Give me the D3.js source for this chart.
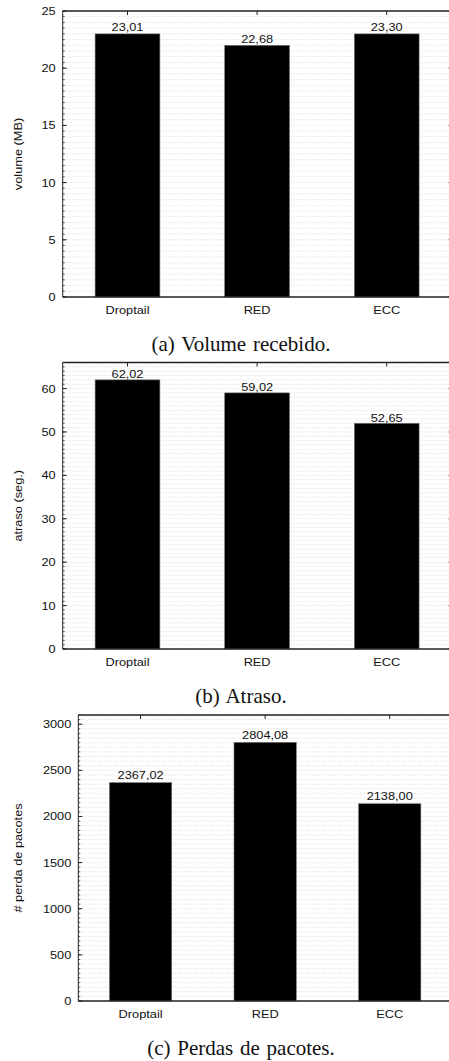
<!DOCTYPE html>
<html>
<head>
<meta charset="utf-8">
<script src="https://cdn.jsdelivr.net/npm/d3@7"></script>
<style>
  html, body { margin: 0; padding: 0; background: #fff; }
  svg { display: block; }
</style>
</head>
<body>
<svg id="chart" width="449" height="1061"></svg>
<script>
const categories = ["Droptail", "RED", "ECC"];

const volumeLabels = [23.01, 22.68, 23.30];
const volumeBars = [23, 22, 23];
const volumeTicks = [0, 5, 10, 15, 20, 25];

const delayLabels = [62.02, 59.02, 52.65];
const delayBars = [62, 59, 52];
const delayTicks = [0, 10, 20, 30, 40, 50, 60];

const lossLabels = [2367.02, 2804.08, 2138.00];
const lossBars = [2367, 2804, 2138];
const lossTicks = [0, 500, 1000, 1500, 2000, 2500, 3000];

const captions = ["(a) Volume recebido.", "(b) Atraso.", "(c) Perdas de pacotes."];
const yTitles = ["volume (MB)", "atraso (seg.)", "# perda de pacotes"];

const svg = d3.select("#chart");
const SX = 1.16;
const fmt = v => d3.format(".2f")(v).replace(".", ",");

function panel(cfg) {
  const g = svg.append("g");
  const x = d3.scaleBand().domain(categories)
    .range([cfg.left, cfg.right]).paddingInner(0.5).paddingOuter(0.25);
  const y = d3.scaleLinear().domain([0, cfg.max]).range([cfg.bottom, cfg.top]);

  // minor grid
  const minor = d3.range(0, cfg.max + 1e-9, cfg.minor);
  g.append("g").selectAll("line").data(minor.filter(v => v > 0)).join("line")
    .attr("x1", cfg.left).attr("x2", cfg.right)
    .attr("y1", d => y(d)).attr("y2", d => y(d))
    .attr("stroke", "#dadada").attr("stroke-width", 0.6)
    .attr("stroke-dasharray", "2,1.2");

  // bars
  g.append("g").selectAll("rect").data(categories).join("rect")
    .attr("x", d => x(d)).attr("width", x.bandwidth())
    .attr("y", (d, i) => y(cfg.bars[i]))
    .attr("height", (d, i) => y(0) - y(cfg.bars[i]))
    .attr("fill", "#000").attr("stroke", "#777").attr("stroke-width", 0.6);

  // value labels
  g.append("g").selectAll("text").data(categories).join("text")
    .attr("transform", (d, i) => `translate(${x(d) + x.bandwidth() / 2},${y(cfg.bars[i]) - cfg.labOff}) scale(${SX},1)`)
    .attr("text-anchor", "middle")
    .attr("font-family", "Liberation Sans, Arial, sans-serif")
    .attr("font-size", 11).attr("fill", "#111")
    .text((d, i) => fmt(cfg.labels[i]));

  // left axis with minor ticks
  const left = g.append("g").attr("transform", `translate(${cfg.left},0)`);
  left.append("line").attr("y1", cfg.top).attr("y2", cfg.bottom)
    .attr("stroke", "#222").attr("stroke-width", 1);
  left.selectAll("line.minor").data(minor).join("line").attr("class", "minor")
    .attr("x1", 0).attr("x2", 2).attr("y1", d => y(d)).attr("y2", d => y(d))
    .attr("stroke", "#333").attr("stroke-width", 0.8);
  left.selectAll("line.major").data(cfg.ticks).join("line").attr("class", "major")
    .attr("x1", 0).attr("x2", 4).attr("y1", d => y(d)).attr("y2", d => y(d))
    .attr("stroke", "#222").attr("stroke-width", 1);
  left.selectAll("text").data(cfg.ticks).join("text")
    .attr("transform", d => `translate(-7,${y(d) + 4}) scale(${SX},1)`)
    .attr("text-anchor", "end")
    .attr("font-family", "Liberation Sans, Arial, sans-serif")
    .attr("font-size", 11).attr("fill", "#111")
    .text(d => d);

  // right ticks
  g.append("g").selectAll("line").data(cfg.ticks).join("line")
    .attr("x1", cfg.right - 3).attr("x2", cfg.right)
    .attr("y1", d => y(d)).attr("y2", d => y(d))
    .attr("stroke", "#444").attr("stroke-width", 1);
  g.append("line").attr("x1", cfg.right).attr("x2", cfg.right)
    .attr("y1", cfg.top).attr("y2", cfg.bottom).attr("stroke", "#222");

  // top frame with category ticks
  g.append("line").attr("x1", cfg.left).attr("x2", cfg.right)
    .attr("y1", cfg.top).attr("y2", cfg.top)
    .attr("stroke", "#222").attr("stroke-width", 1.3);
  g.append("g").selectAll("line").data(categories).join("line")
    .attr("x1", d => x(d) + x.bandwidth() / 2).attr("x2", d => x(d) + x.bandwidth() / 2)
    .attr("y1", cfg.top).attr("y2", cfg.top + 4)
    .attr("stroke", "#222").attr("stroke-width", 1);

  // bottom axis
  g.append("line").attr("x1", cfg.left).attr("x2", cfg.right)
    .attr("y1", cfg.bottom).attr("y2", cfg.bottom)
    .attr("stroke", "#222").attr("stroke-width", 1.3);
  g.append("g").selectAll("text").data(categories).join("text")
    .attr("transform", d => `translate(${x(d) + x.bandwidth() / 2},${cfg.bottom + 17}) scale(${SX},1)`)
    .attr("text-anchor", "middle")
    .attr("font-family", "Liberation Sans, Arial, sans-serif")
    .attr("font-size", 11).attr("fill", "#111")
    .text(d => d);

  // y title
  g.append("text")
    .attr("transform", `translate(${cfg.titleX},${(cfg.top + cfg.bottom) / 2}) rotate(-90) scale(${SX},1)`)
    .attr("text-anchor", "middle")
    .attr("font-family", "Liberation Sans, Arial, sans-serif")
    .attr("font-size", 11).attr("fill", "#111")
    .text(cfg.title);

  // caption
  g.append("text")
    .attr("x", 241).attr("y", cfg.bottom + 54)
    .attr("text-anchor", "middle")
    .attr("font-family", "Liberation Serif, Times New Roman, serif")
    .attr("font-size", 21).attr("word-spacing", 1.5).attr("fill", "#111")
    .text(cfg.caption);
}

panel({ left: 62.7, right: 451.5, top: 11, bottom: 297, max: 25, minor: 0.5,
  ticks: volumeTicks, bars: volumeBars, labels: volumeLabels, labOff: 2.6,
  title: yTitles[0], titleX: 22, caption: captions[0] });
panel({ left: 62.7, right: 451.5, top: 362.5, bottom: 649, max: 66, minor: 1,
  ticks: delayTicks, bars: delayBars, labels: delayLabels, labOff: 1.5,
  title: yTitles[1], titleX: 22, caption: captions[1] });
panel({ left: 78.3, right: 452, top: 715, bottom: 1001, max: 3100, minor: 50,
  ticks: lossTicks, bars: lossBars, labels: lossLabels, labOff: 3.5,
  title: yTitles[2], titleX: 22, caption: captions[2] });
</script>
</body>
</html>
